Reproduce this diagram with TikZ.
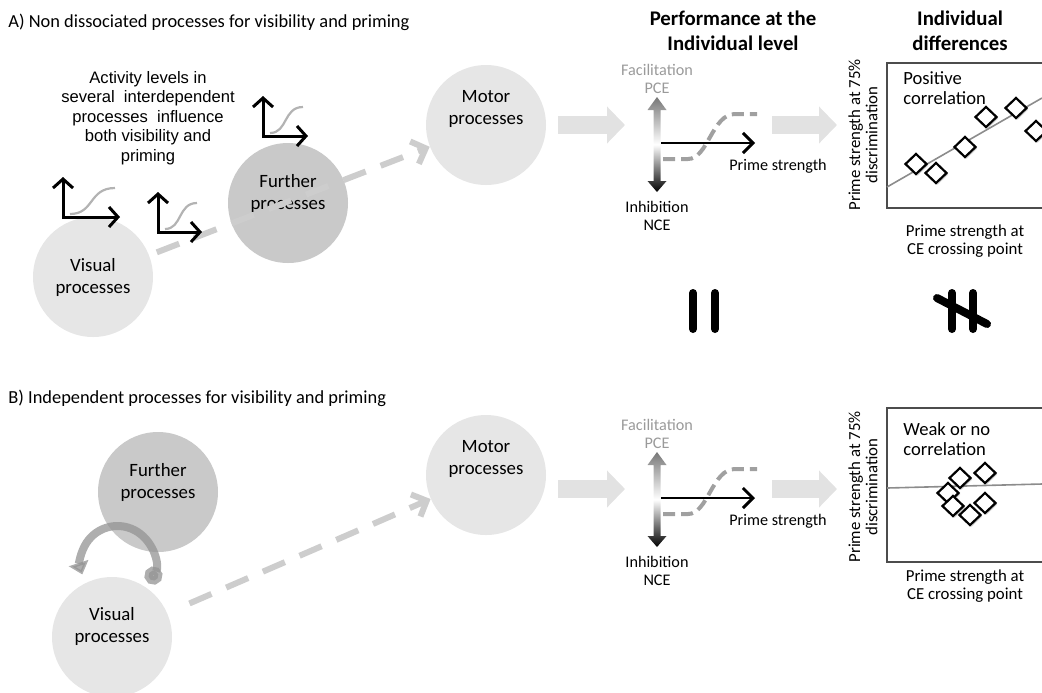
\documentclass[tikz,border=0pt]{standalone}
\usepackage{fontspec}
\setmainfont{Carlito}
\newfontfamily\arialfont{Liberation Sans}
\usetikzlibrary{arrows.meta,shapes.geometric,shadows}

\definecolor{lightproc}{HTML}{E6E6E6}
\definecolor{darkproc}{HTML}{C9C9C9}
\definecolor{blockgray}{HTML}{E2E2E2}
\definecolor{dashgray}{HTML}{CDCDCD}
\definecolor{curvegray}{HTML}{A0A0A0}
\definecolor{facgray}{HTML}{9A9A9A}
\definecolor{topgrad}{HTML}{777777}

\tikzset{
  proc/.style={circle, minimum size=60pt, inner sep=0pt},
  proctxt/.style={align=center, font=\fontsize{9.4}{11}\selectfont},
  small/.style={align=center, font=\fontsize{8.1}{9}\selectfont},
  dasharrow/.style={dashgray, line width=3pt, dash pattern=on 12pt off 8pt,
    -{Straight Barb[length=6pt, width=12pt]}},
  blockarrow/.style={blockgray, line width=9pt, -{Triangle[length=9pt, width=18pt]}},
  icon/.style={line width=1.5pt, -{Straight Barb[length=4.5pt, width=10pt]}},
  sigm/.style={curvegray!80, line width=1.1pt},
  sigdash/.style={curvegray, line width=2pt, dash pattern=on 6pt off 3pt},
  eqbar/.style={line width=4pt, line cap=round},
  dot/.style={diamond, draw, fill=white, line width=1.1pt, minimum width=11pt,
    minimum height=10.5pt, inner sep=0pt,
    drop shadow={shadow xshift=0.8pt, shadow yshift=-0.8pt, opacity=0.35}}
}

\begin{document}
\begin{tikzpicture}[x=0.5pt, y=-0.5pt]
  \useasboundingbox (0,0) rectangle (1042,692);

  % titles
  \node[anchor=west, inner sep=0pt, font=\fontsize{9.2}{11}\selectfont] (titA) at (8,22)
    {A) Non dissociated processes for visibility and priming};
  \node[anchor=west, inner sep=0pt, font=\fontsize{9.2}{11}\selectfont] (titB) at (8,398)
    {B) Independent processes for visibility and priming};
  \node[align=center, font=\bfseries\fontsize{10.4}{12.5}\selectfont] (perf) at (733,31)
    {Performance at the\\Individual level};
  \node[align=center, font=\bfseries\fontsize{10.4}{12.5}\selectfont] (diff) at (960,31)
    {Individual\\differences};

  % A) processes
  \node[align=center, font=\arialfont\fontsize{8.3}{9.8}\selectfont] (activity) at (148,118)
    {Activity levels in\\several~ interdependent\\processes~ influence\\both visibility and\\priming};
  \node[proc, fill=lightproc, label={[proctxt]center:Visual\\processes}] (visA) at (93,277) {};
  \node[proc, fill=darkproc, label={[proctxt, yshift=5pt]center:Further\\processes}] (furA) at (288,203) {};
  \node[proc, fill=lightproc, label={[proctxt, yshift=8pt]center:Motor\\processes}] (motA) at (486,125) {};
  \draw[dasharrow, shorten <=4pt] (visA) -- (motA);

  % activity icons
  \foreach \x/\y/\w in {63/217/57, 158/232/44, 263/136/45} {
    \draw[sigm] (\x+7,\y-3) .. controls (\x+\w*0.55,\y-3) and (\x+\w*0.45,\y-29) .. (\x+\w-5,\y-29);
    \draw[icon] (\x,\y) -- (\x,\y-40);
    \draw[icon] (\x-0.75,\y) -- (\x+\w,\y);
  }

  % B) processes
  \node[proc, fill=darkproc, label={[proctxt, yshift=5pt]center:Further\\processes}] (furB) at (158,492) {};
  \node[proc, fill=lightproc, label={[proctxt, yshift=5.5pt]center:Visual\\processes}] (visB) at (112,637) {};
  \node[proc, fill=lightproc, label={[proctxt, yshift=8pt]center:Motor\\processes}] (motB) at (486,475) {};
  \draw[gray!85, opacity=0.75, line width=4pt, {Circle[length=9pt]}-{Triangle[length=6pt, width=10pt]}]
    (117.5,563) ++(33:37) arc[start angle=33, end angle=-198, radius=37];
  \draw[dasharrow, shorten <=12pt] (visB) -- (motB);

  % block arrows
  \coordinate (arA1) at (558,125); \coordinate (arA2) at (625,125);
  \coordinate (arA3) at (772,125); \coordinate (arA4) at (837,125);
  \coordinate (arB1) at (558,489); \coordinate (arB2) at (625,489);
  \coordinate (arB3) at (772,489); \coordinate (arB4) at (837,489);
  \draw[blockarrow] (arA1) -- (arA2);
  \draw[blockarrow] (arA3) -- (arA4);
  \draw[blockarrow] (arB1) -- (arB2);
  \draw[blockarrow] (arB3) -- (arB4);

  % performance at the individual level
  \foreach \o/\s in {0/A, 355/B} {
    \shade[top color=topgrad, bottom color=black, middle color=white]
      (657,97+\o) -- (666.5,110+\o) -- (660.5,110+\o) -- (660.5,181+\o) -- (666.5,181+\o)
      -- (657,192+\o) -- (647.5,181+\o) -- (653.5,181+\o) -- (653.5,110+\o) -- (647.5,110+\o) -- cycle;
    \node[small, text=facgray] (fac\s) at (657,79+\o) {Facilitation\\PCE};
    \node[small] (inh\s) at (657,216+\o) {Inhibition\\NCE};
    \coordinate (ps0\s) at (661,143+\o);
    \coordinate (ps1\s) at (755,143+\o);
    \draw[sigdash] (663,159+\o) -- (688,159+\o) .. controls (708,159+\o) and (712,114+\o) .. (735,114+\o) -- (757,114+\o);
    \draw[line width=0.7pt, -{Straight Barb[length=5pt, width=10pt, line width=1.5pt]}] (ps0\s) -- (ps1\s);
    \node[small] (ps\s) at (778,166+\o) {Prime strength};
  }

  % individual differences, A
  \draw[black!70, line width=0.7pt] (1044,63) -- (887,63) -- (887,208) -- (1044,208);
  \node[rotate=90, align=center, font=\fontsize{8.4}{8.6}\selectfont] (ylabA) at (863,135)
    {Prime strength at 75\%\\discrimination};
  \node[align=center, font=\fontsize{8.4}{9}\selectfont] (xlabA) at (965,241)
    {Prime strength at\\CE crossing point};
  \node[anchor=west, align=left, inner sep=0pt, font=\fontsize{9.3}{10}\selectfont] (corA) at (903,88)
    {Positive\\correlation};
  \draw[gray!90, line width=0.8pt] (887,187) -- (1042,98);
  \foreach \x/\y [count=\i] in {916/164, 936/173, 965/147, 986/117, 1016/108, 1036/131}
    \node[dot] (dA\i) at (\x,\y) {};

  % individual differences, B
  \draw[black!70, line width=0.7pt] (1044,408) -- (887,408) -- (887,562) -- (1044,562);
  \node[rotate=90, align=center, font=\fontsize{8.4}{8.6}\selectfont] (ylabB) at (863,487)
    {Prime strength at 75\%\\discrimination};
  \node[align=center, font=\fontsize{8.4}{9}\selectfont] (xlabB) at (965,586)
    {Prime strength at\\CE crossing point};
  \node[anchor=west, align=left, inner sep=0pt, font=\fontsize{9.3}{10}\selectfont] (corB) at (903,439)
    {Weak or no\\correlation};
  \draw[gray!90, line width=0.8pt] (887,488) -- (1042,484);
  \foreach \x/\y [count=\i] in {960/478, 985/473, 948/493, 953/506, 970/515, 985/503}
    \node[dot] (dB\i) at (\x,\y) {};

  % equal / not equal
  \draw[eqbar] (693,293) -- (693,329);
  \draw[eqbar] (715,293) -- (715,329);
  \draw[eqbar] (952,293) -- (952,329);
  \draw[eqbar] (973,293) -- (973,329);
  \draw[eqbar] (937,298) -- (987,324);
\end{tikzpicture}
\end{document}
